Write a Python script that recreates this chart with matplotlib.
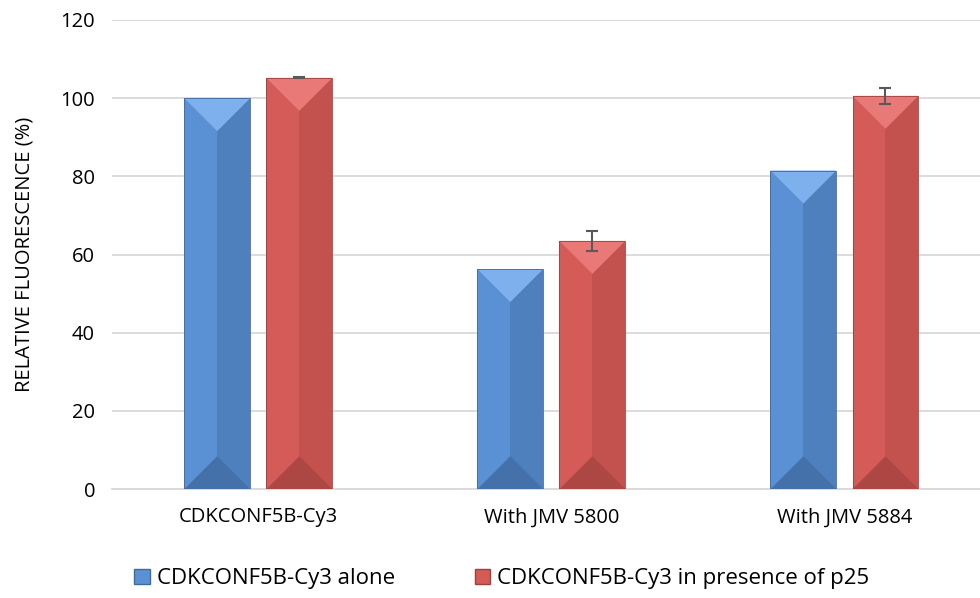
import matplotlib
matplotlib.use("Agg")
import matplotlib.pyplot as plt
from matplotlib.patches import Polygon, Patch
import numpy as np

categories = ["CDKCONF5B-Cy3", "With JMV 5800", "With JMV 5884"]
alone = [100.0, 56.3, 81.5]
p25 = [105.2, 63.5, 100.6]
p25_err = [0.15, 2.5, 2.0]
series_names = ["CDKCONF5B-Cy3 alone", "CDKCONF5B-Cy3 in presence of p25"]
yticks = [0, 20, 40, 60, 80, 100, 120]

plt.rcParams['font.family'] = ['Open Sans', 'DejaVu Sans']

fig = plt.figure(figsize=(9.8, 5.98), dpi=100)
ax = fig.add_axes([0.114, 0.182, 0.886, 0.7846])

x = np.arange(len(categories))
w = 0.225
off = 0.14

styles = {
    'blue': dict(base='#5A91D5', right='#4F80BE', top='#7FB0EE', bot='#4571AA', edge='#3F6A9E'),
    'red': dict(base='#D45B58', right='#C3514E', top='#E97977', bot='#AD4744', edge='#9E403E'),
}

def fancy_bars(xs, vals, st, err=None):
    bars = ax.bar(xs, vals, w, color=st['base'], edgecolor='none', zorder=3)
    fig.canvas.draw()
    inv = ax.transData.inverted()
    for b in bars:
        x0, bw, h = b.get_x(), b.get_width(), b.get_height()
        xc = x0 + bw / 2
        p0 = ax.transData.transform((x0, 0))
        p1 = ax.transData.transform((x0 + bw, 0))
        half_px = (p1[0] - p0[0]) / 2
        d = inv.transform((p0[0], p0[1] + half_px))[1] - inv.transform((p0[0], p0[1]))[1]
        ax.add_patch(Polygon([(xc, 0), (x0 + bw, 0), (x0 + bw, h), (xc, h)],
                             closed=True, color=st['right'], lw=0, zorder=3.1))
        ax.add_patch(Polygon([(x0, h), (x0 + bw, h), (xc, h - d)],
                             closed=True, color=st['top'], lw=0, zorder=3.2))
        ax.add_patch(Polygon([(x0, 0), (x0 + bw, 0), (xc, d)],
                             closed=True, color=st['bot'], lw=0, zorder=3.2))
        ax.add_patch(Polygon([(x0, 0), (x0 + bw, 0), (x0 + bw, h), (x0, h)],
                             closed=True, fill=False, edgecolor=st['edge'], lw=0.6, zorder=3.3))
    if err is not None:
        ax.errorbar(xs, vals, yerr=err, fmt='none', ecolor='#595959', elinewidth=1.5,
                    capsize=4.3, capthick=1.5, zorder=4)
    return bars

ax.set_ylim(0, 120)
ax.set_xlim(-0.5, 2.5 - 11 / 293)
fancy_bars(x - off, alone, styles['blue'])
fancy_bars(x + off, p25, styles['red'], p25_err)

ax.set_yticks(yticks)
ax.set_yticklabels([str(t) for t in yticks], fontsize=14.5)
ax.set_xticks(x)
ax.set_xticklabels(categories, fontsize=14.5)
ax.tick_params(axis='y', length=0, pad=12)
ax.tick_params(axis='x', length=0, pad=13)
ax.yaxis.grid(True, color='#D9D9D9', lw=1.3, zorder=0)
ax.set_axisbelow(True)
for s in ['top', 'right', 'left']:
    ax.spines[s].set_visible(False)
ax.spines['bottom'].set_color('#D9D9D9')
ax.spines['bottom'].set_linewidth(1.3)
ax.set_ylabel("RELATIVE FLUORESCENCE (%)", fontsize=14.5, labelpad=19)

handles = [Patch(facecolor=styles['blue']['base'], edgecolor=styles['blue']['edge']),
           Patch(facecolor=styles['red']['base'], edgecolor=styles['red']['edge'])]
fig.legend(handles, series_names, loc='center', bbox_to_anchor=(0.512, 0.032), ncol=2,
           frameon=False, fontsize=16, handlelength=0.7, handleheight=0.7,
           handletextpad=0.3, columnspacing=3.6)

fig.savefig("out.png", dpi=100)
